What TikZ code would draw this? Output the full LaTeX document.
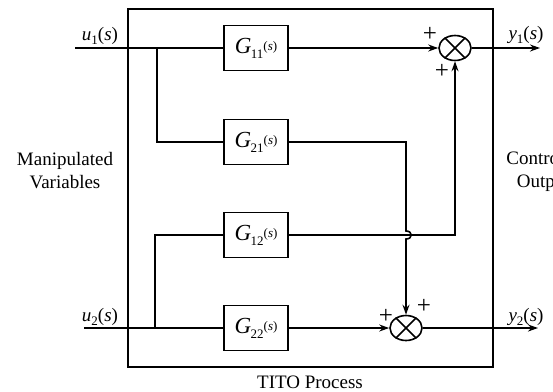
\documentclass[tikz,border=0pt]{standalone}
\usepackage{fontspec}
\setmainfont{Liberation Serif}
\usetikzlibrary{positioning,arrows.meta,calc,shapes.geometric}
\tikzset{
  wire/.style   ={line width=1.6pt},
  sig/.style    ={wire, -{Stealth[length=10pt,width=7pt]}},
  blk/.style    ={draw, wire, minimum width=64pt, minimum height=45pt, inner sep=0pt,
                  font=\fontsize{23}{24}\selectfont},
  frame/.style  ={draw, wire, minimum width=365pt, minimum height=358pt, inner sep=0pt},
  summer/.style ={draw, wire, ellipse, minimum width=32pt, minimum height=25pt, inner sep=0pt},
  lbl/.style    ={font=\fontsize{19}{23}\selectfont, inner sep=0pt},
  sgn/.style    ={font=\fontsize{25}{25}\selectfont, inner sep=0pt},
}
\newcommand{\tfun}[1]{\textit{G}\kern-0.5pt\raisebox{-5pt}{\fontsize{13}{13}\selectfont #1}\raisebox{3pt}{\fontsize{13}{13}\selectfont(\textit{s})}}
\newcommand{\sigl}[2]{\textit{#1}\raisebox{-4pt}{\fontsize{13}{13}\selectfont #2}(\textit{s})}

\begin{document}
\begin{tikzpicture}[x=1pt, y=-1pt]
    \useasboundingbox (0,0) rectangle (553,391);
    % process frame
    \node[frame] (proc) at (310.5,188) {};
    \node[lbl, anchor=base] (tito) at (310,388) {TITO Process};
    % transfer blocks
    \node[blk] (g11) at (256,48) {\tfun{11}};
    \node[blk] (g21) at (256,142)  {\tfun{21}};
    \node[blk] (g12) at (256,235)  {\tfun{12}};
    \node[blk] (g22) at (256,328) {\tfun{22}};
    % summing junctions
    \node[summer] (sum1) at (455,48) {};
    \node[summer] (sum2) at (406,328) {};
    \foreach \s in {sum1,sum2}{
        \draw[wire] (\s.45) -- (\s.225);
        \draw[wire] (\s.135) -- (\s.315);}
    % inputs and branch points
    \coordinate (u1in) at (75,48);
    \coordinate (u2in) at (84,328);
    \coordinate (br1) at (157,48);
    \coordinate (br2) at (155,328);
    \draw[wire] (u1in) -- (g11.west);
    \draw[wire] (u2in) -- (g22.west);
    \draw[wire] (br1) |- (g21.west);
    \draw[wire] (br2) |- (g12.west);
    \node[lbl, anchor=base] (u1lbl) at (100,40) {\sigl{u}{1}};
    \node[lbl, anchor=base] (u2lbl) at (100,321) {\sigl{u}{2}};
    % direct paths
    \draw[sig] (g11.east) -- (sum1.west);
    \draw[sig] (g22.east) -- (sum2.west);
    % cross couplings, with a hop where they meet
    \coordinate (hopT) at (406,231);
    \coordinate (hopB) at (406,239);
    \draw[sig] (g12.east) -| (sum1.south);
    \draw[sig] (g21.east) -| (hopT) .. controls (413,231) and (413,239) .. (hopB) -- (sum2.north);
    % outputs
    \coordinate (y1out) at (540,48);
    \coordinate (y2out) at (538,328);
    \draw[sig] (sum1.east) -- (y1out);
    \draw[sig] (sum2.east) -- (y2out);
    \node[lbl, anchor=base] (y1lbl) at (526,39) {\sigl{y}{1}};
    \node[lbl, anchor=base] (y2lbl) at (526,321) {\sigl{y}{2}};
    % signs
    \node[sgn] (p1a) at (430,34) {+};
    \node[sgn] (p1b) at (442,71) {+};
    \node[sgn] (p2a) at (386,316) {+};
    \node[sgn] (p2b) at (424,306) {+};
    % side captions
    \node[lbl, align=center] (mv) at (65,171) {Manipulated\\Variables};
    \node[lbl, align=center] (co) at (547,171) {Controlled\\Outputs};
\end{tikzpicture}
\end{document}
